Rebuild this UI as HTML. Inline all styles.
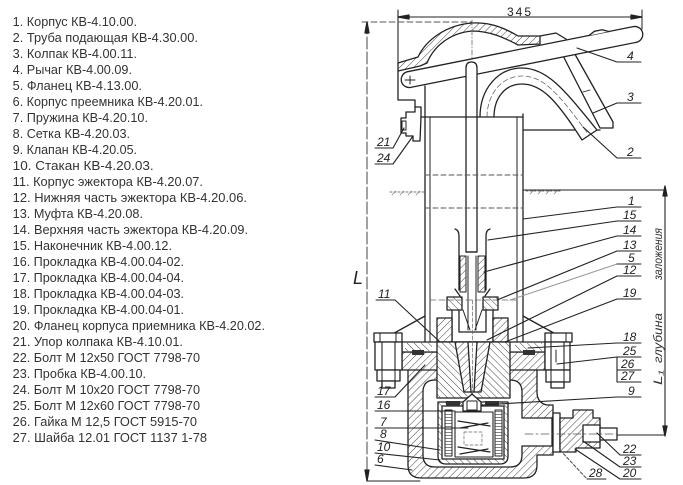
<!DOCTYPE html>
<html><head><meta charset="utf-8">
<style>
html,body{margin:0;padding:0;background:#fff;}
svg{display:block;}
.l{font-family:"Liberation Sans","DejaVu Sans",sans-serif;font-size:12.5px;fill:#333;}
.n{font-family:"Liberation Sans","DejaVu Sans",sans-serif;font-style:italic;font-size:12px;fill:#222;}
</style></head><body>
<svg width="683" height="485" viewBox="0 0 683 485" xmlns="http://www.w3.org/2000/svg">
<defs>
<pattern id="ha" width="5" height="5" patternUnits="userSpaceOnUse" patternTransform="rotate(45)"><rect width="5" height="5" fill="#fff"/><line x1="0" y1="0" x2="0" y2="5" stroke="#444" stroke-width="1"/></pattern>
<pattern id="hb" width="5" height="5" patternUnits="userSpaceOnUse" patternTransform="rotate(-45)"><rect width="5" height="5" fill="#fff"/><line x1="0" y1="0" x2="0" y2="5" stroke="#444" stroke-width="1"/></pattern>
<pattern id="hm" width="4" height="3" patternUnits="userSpaceOnUse"><rect width="4" height="3" fill="#fff"/><line x1="0" y1="0" x2="4" y2="0" stroke="#333" stroke-width="1.2"/></pattern>
</defs>

<!-- Parts list -->
<g class="l">
<text x="12.7" y="26" textLength="124.3" lengthAdjust="spacingAndGlyphs">1. Корпус КВ-4.10.00.</text>
<text x="12.7" y="42" textLength="185.3" lengthAdjust="spacingAndGlyphs">2. Труба подающая КВ-4.30.00.</text>
<text x="12.7" y="58" textLength="124.3" lengthAdjust="spacingAndGlyphs">3. Колпак КВ-4.00.11.</text>
<text x="12.7" y="74" textLength="119.3" lengthAdjust="spacingAndGlyphs">4. Рычаг КВ-4.00.09.</text>
<text x="12.7" y="90" textLength="129.3" lengthAdjust="spacingAndGlyphs">5. Фланец КВ-4.13.00.</text>
<text x="12.7" y="106" textLength="190.3" lengthAdjust="spacingAndGlyphs">6. Корпус преемника КВ-4.20.01.</text>
<text x="12.7" y="122" textLength="135.3" lengthAdjust="spacingAndGlyphs">7. Пружина КВ-4.20.10.</text>
<text x="12.7" y="138" textLength="117.3" lengthAdjust="spacingAndGlyphs">8. Сетка КВ-4.20.03.</text>
<text x="12.7" y="154" textLength="124.3" lengthAdjust="spacingAndGlyphs">9. Клапан КВ-4.20.05.</text>
<text x="12.7" y="170" textLength="141" lengthAdjust="spacingAndGlyphs">10. Стакан КВ-4.20.03.</text>
<text x="12.7" y="186" textLength="190.3" lengthAdjust="spacingAndGlyphs">11. Корпус эжектора КВ-4.20.07.</text>
<text x="12.7" y="202" textLength="234.3" lengthAdjust="spacingAndGlyphs">12. Нижняя часть эжектора КВ-4.20.06.</text>
<text x="12.7" y="218" textLength="130.3" lengthAdjust="spacingAndGlyphs">13. Муфта КВ-4.20.08.</text>
<text x="12.7" y="234" textLength="235.3" lengthAdjust="spacingAndGlyphs">14. Верхняя часть эжектора КВ-4.20.09.</text>
<text x="12.7" y="250" textLength="159.3" lengthAdjust="spacingAndGlyphs">15. Наконечник КВ-4.00.12.</text>
<text x="12.7" y="266" textLength="171.3" lengthAdjust="spacingAndGlyphs">16. Прокладка КВ-4.00.04-02.</text>
<text x="12.7" y="282" textLength="171.3" lengthAdjust="spacingAndGlyphs">17. Прокладка КВ-4.00.04-04.</text>
<text x="12.7" y="298" textLength="171.3" lengthAdjust="spacingAndGlyphs">18. Прокладка КВ-4.00.04-03.</text>
<text x="12.7" y="314" textLength="171.3" lengthAdjust="spacingAndGlyphs">19. Прокладка КВ-4.00.04-01.</text>
<text x="12.7" y="330" textLength="252.3" lengthAdjust="spacingAndGlyphs">20. Фланец корпуса приемника КВ-4.20.02.</text>
<text x="12.7" y="346" textLength="170.3" lengthAdjust="spacingAndGlyphs">21. Упор колпака КВ-4.10.01.</text>
<text x="12.7" y="362" textLength="187.3" lengthAdjust="spacingAndGlyphs">22. Болт М 12х50 ГОСТ 7798-70</text>
<text x="12.7" y="378" textLength="133.3" lengthAdjust="spacingAndGlyphs">23. Пробка КВ-4.00.10.</text>
<text x="12.7" y="394" textLength="187.3" lengthAdjust="spacingAndGlyphs">24. Болт М 10х20 ГОСТ 7798-70</text>
<text x="12.7" y="410" textLength="187.3" lengthAdjust="spacingAndGlyphs">25. Болт М 12х60 ГОСТ 7798-70</text>
<text x="12.7" y="426" textLength="184.3" lengthAdjust="spacingAndGlyphs">26. Гайка М 12,5 ГОСТ 5915-70</text>
<text x="12.7" y="442" textLength="194.3" lengthAdjust="spacingAndGlyphs">27. Шайба 12.01 ГОСТ 1137 1-78</text>
</g>

<!-- Drawing -->
<g fill="none" stroke="#222" stroke-width="1.3" stroke-linecap="round" stroke-linejoin="round">

<!-- top dimension 345 -->
<line x1="398" y1="17" x2="642" y2="17" stroke-width="1"/>
<polygon points="398,17 409,15 409,19" fill="#222"/>
<polygon points="642,17 631,15 631,19" fill="#222"/>
<line x1="398" y1="10" x2="398" y2="66" stroke-width="1.1"/>
<line x1="642" y1="10" x2="642" y2="29" stroke-width="1"/>

<!-- L dimension -->
<line x1="362" y1="22" x2="472" y2="22" stroke="#555" stroke-width="0.9" stroke-dasharray="6 3"/>
<line x1="367" y1="22" x2="367" y2="480" stroke="#444" stroke-width="1" stroke-dasharray="12 3"/>
<polygon points="367,22 365,33 369,33" fill="#222"/>
<polygon points="367,481 365,470 369,470" fill="#222"/>
<line x1="367" y1="481" x2="420" y2="481" stroke-width="0.9"/>

<!-- cap 3 shell -->
<path d="M398 63 L418 57 C426 40 446 25 472 23 C492 22 506 29 518 36 L540 36 L540 44 L518 45 C505 38 490 31 472 31 C450 33 434 46 427 63 L420 66 L398 71 Z" fill="url(#ha)"/>
<path d="M540 36 L556 33 L566 39"/>
<line x1="472" y1="20" x2="472" y2="70" stroke="#666" stroke-width="0.8" stroke-dasharray="5 2 1 2"/>
<!-- cap left wall -->
<path d="M398 71 L398 100 L415 100 L415 107 L421 107 L421 117"/>
<line x1="425" y1="86" x2="425" y2="117"/>
<!-- cap skirt -->
<path d="M556 42 L600 128 L613 128 L613 122 L567 40"/>
<line x1="583" y1="92" x2="590" y2="90" stroke-width="0.9"/>
<line x1="523" y1="130" x2="600" y2="130"/>

<!-- lever 4 -->
<g transform="translate(522,57) rotate(-11.3)">
<rect x="-123" y="-8" width="246" height="16" rx="8" fill="#fff"/>
<path d="M70 -8 L76 -11 L84 -11 L90 -8" fill="#fff"/>
</g>
<path d="M405 80 L415 80 M410 76 L410 84" stroke-width="1"/>

<!-- pipe 2 stem -->
<path d="M466 252 L466 68 Q466 62 471.5 62 Q477 62 477 68 L477 252 Z" fill="#fff"/>
<!-- pipe 2 arch -->
<path d="M480 117 C480 90 497 68 522 68 C548 68 566 92 597 130 L582 140 C556 99 541 84 522 84 C505 84 494 98 494 117" fill="#fff"/>
<path d="M487 117 C487 94 502 76 522 76 C545 76 560 96 589 135" stroke="#666" stroke-width="0.8" stroke-dasharray="5 3"/>

<!-- bracket 21/24 -->
<path d="M415 107 L415 112 L406 112 L406 118 L401 118 L401 133 L406 133 L406 136 L413 136 L413 141 L420 141 L421 117"/>
<rect x="402" y="121" width="4" height="9" stroke-width="1"/>

<!-- body 1 -->
<line x1="421" y1="117" x2="523" y2="117"/>
<line x1="425" y1="117" x2="425" y2="342"/>
<line x1="430" y1="117" x2="430" y2="342" stroke-width="1"/>
<line x1="517" y1="117" x2="517" y2="342" stroke-width="1"/>
<line x1="523" y1="114" x2="523" y2="342"/>
<line x1="425" y1="175" x2="523" y2="175" stroke="#555" stroke-width="0.9" stroke-dasharray="5 3"/>
<line x1="425" y1="208" x2="523" y2="208" stroke="#555" stroke-width="0.9" stroke-dasharray="5 3"/>

<!-- ground -->
<line x1="390" y1="192" x2="424" y2="192" stroke="#777" stroke-width="1" stroke-dasharray="2 2"/>
<line x1="526" y1="191" x2="562" y2="191" stroke="#777" stroke-width="1" stroke-dasharray="2 2"/>
<path d="M392 195 l4 -4 M400 195 l4 -4 M408 195 l4 -4 M416 195 l4 -4 M530 194 l4 -4 M538 194 l4 -4 M546 194 l4 -4 M554 194 l4 -4" stroke="#888" stroke-width="0.8"/>
<line x1="523" y1="190" x2="665" y2="190" stroke-width="1.1"/>
<polygon points="665,186 663,196 667,196" fill="#222"/>
<!-- L1 -->
<line x1="665" y1="190" x2="665" y2="435" stroke-width="1.1"/>
<polygon points="665,436 663,426 667,426" fill="#222"/>
<line x1="617" y1="435" x2="665" y2="435" stroke-width="1.1"/>

<!-- ejector: nozzle 15 -->
<path d="M455 229 Q459 230 459 236 L459 290"/>
<path d="M490 229 Q486 230 486 236 L486 290"/>
<line x1="466" y1="252" x2="477" y2="252"/>
<rect x="460" y="256" width="6" height="36" fill="url(#ha)" stroke-width="1"/>
<rect x="478" y="256" width="7" height="36" fill="url(#ha)" stroke-width="1"/>
<line x1="468" y1="256" x2="468" y2="330" stroke-width="1"/>
<line x1="476" y1="256" x2="476" y2="330" stroke-width="1"/>
<path d="M455 289 L460 296 M490 289 L485 296"/>
<!-- muff 13 -->
<rect x="447" y="297" width="15" height="13" fill="url(#hb)"/>
<rect x="483" y="297" width="15" height="13" fill="url(#hb)"/>
<line x1="430" y1="300" x2="517" y2="300" stroke="#666" stroke-width="0.8" stroke-dasharray="6 3"/>
<!-- lower ejector -->
<line x1="452" y1="310" x2="452" y2="342"/>
<line x1="493" y1="310" x2="493" y2="342"/>
<path d="M459 310 L459 332 L486 332 L486 310"/>
<path d="M463 310 L470 330 M482 310 L475 330" stroke-width="1"/>
<rect x="437" y="318" width="15" height="24" fill="url(#ha)"/>
<rect x="493" y="318" width="15" height="24" fill="url(#ha)"/>

<!-- cone flange lines -->
<line x1="378" y1="342" x2="425" y2="316"/>
<line x1="523" y1="316" x2="570" y2="342"/>

<!-- body 6 -->
<path fill-rule="evenodd" fill="url(#ha)" d="M408 368 L408 465 Q408 478 421 478 L524 478 Q537 478 537 465 L537 455 L553 455 L553 405 L547 405 Q537 403 537 392 L537 368 Z M423 392 Q423 380 435 380 L510 380 Q522 380 522 392 L522 418 L552 418 L552 446 L522 446 L522 455 Q522 467 510 467 L435 467 Q423 467 423 455 Z"/>
<!-- body 6 flange -->
<rect x="402" y="352" width="143" height="18" fill="url(#ha)"/>
<!-- flange 20 plate -->
<rect x="402" y="342" width="143" height="10" fill="#fff"/>
<rect x="405" y="343" width="27" height="8" fill="url(#hb)" stroke="none"/>
<rect x="515" y="343" width="27" height="8" fill="url(#hb)" stroke="none"/>
<rect x="412" y="350" width="12" height="5" fill="#333" stroke="none"/>
<rect x="523" y="350" width="12" height="5" fill="#333" stroke="none"/>

<!-- central block 11 -->
<rect x="437" y="342" width="73" height="56" fill="url(#hb)"/>
<polygon points="455,342 490,342 481,392 464,392" fill="url(#ha)"/>
<polygon points="468,342 477,342 474,392 471,392" fill="#fff"/>
<line x1="472.5" y1="300" x2="472.5" y2="400" stroke="#666" stroke-width="0.7" stroke-dasharray="4 2"/>

<!-- cup 10 -->
<path fill-rule="evenodd" fill="url(#hb)" d="M438 402 L438 456 Q438 464 446 464 L500 464 Q508 464 508 456 L508 402 Z M442 406 L504 406 L504 459 L442 459 Z"/>
<rect x="446" y="401" width="14" height="5" fill="#333" stroke="none"/>
<rect x="485" y="401" width="14" height="5" fill="#333" stroke="none"/>
<!-- mesh 8 -->
<rect x="445" y="410" width="7" height="46" fill="url(#hm)" stroke-width="1"/>
<rect x="495" y="410" width="7" height="46" fill="url(#hm)" stroke-width="1"/>
<!-- spring box -->
<rect x="455" y="412" width="38" height="45" fill="#fff" stroke-width="1.1"/>
<path d="M458 421 L490 426 M460 428 L488 423 M458 447 L490 452 M460 454 L488 449" stroke-width="1.2"/>
<rect x="464" y="432" width="18" height="13" stroke="#666" stroke-width="0.7" stroke-dasharray="3 2"/>
<!-- valve 9 -->
<polygon points="463,402 472,394 481,402 481,411 463,411" fill="#fff"/>
<rect x="467" y="401" width="10" height="9" stroke-width="1"/>

<!-- bolts left -->
<rect x="374" y="333" width="28" height="9" fill="#fff"/>
<path d="M380 333 L380 342 M396 333 L396 342" stroke-width="1"/>
<rect x="375" y="342" width="27" height="28" fill="#fff"/>
<path d="M382 342 L382 388 M395 342 L395 388" stroke-width="1.1"/>
<rect x="377" y="370" width="23" height="11" fill="#fff"/>
<path d="M382 370 L382 381 M395 370 L395 381" stroke-width="1"/>
<rect x="382" y="381" width="13" height="7" fill="#fff"/>
<!-- bolts right -->
<rect x="545" y="333" width="27" height="9" fill="#fff"/>
<path d="M551 333 L551 342 M566 333 L566 342" stroke-width="1"/>
<rect x="545" y="342" width="25" height="28" fill="#fff"/>
<path d="M551 342 L551 388 M564 342 L564 388" stroke-width="1.1"/>
<path d="M556 350 L556 362" stroke-width="1"/>
<rect x="546" y="370" width="24" height="12" fill="#fff"/>
<path d="M551 370 L551 382 M564 370 L564 382" stroke-width="1"/>
<rect x="551" y="382" width="13" height="6" fill="#fff"/>

<!-- outlet -->
<rect x="553" y="413" width="7" height="39" fill="#fff"/>
<polygon points="560,418 573,418 573,410 593,410 593,418 600,418 600,448 576,448 576,452 560,452" fill="url(#ha)"/>
<rect x="583" y="425" width="17" height="17" fill="#fff"/>
<rect x="600" y="428" width="17" height="12" fill="#fff"/>
<line x1="525" y1="434" x2="617" y2="434" stroke="#555" stroke-width="0.8" stroke-dasharray="8 3 2 3"/>

<!-- right labels leaders & underlines -->
<g stroke-width="1.1">
<path d="M577 48 L617 62 L641 62"/>
<path d="M593 113 L617 103 L641 103"/>
<path d="M583 127 L617 158 L641 158"/>
<path d="M523 219 L617 207 L641 207"/>
<path d="M488 240 L617 221 L641 221"/>
<path d="M484 272 L617 236 L641 236"/>
<path d="M497 300 L617 251 L641 251"/>
<path d="M510 300 L617 264" stroke="#999"/>
<path d="M617 264 L641 264"/>
<path d="M487 340 L617 276 L641 276"/>
<path d="M505 342 L617 299 L641 299"/>
<path d="M528 348 L617 343 L641 343"/>
<path d="M557 364 L617 357 L641 357"/>
<path d="M617 357 L617 382 M617 370 L641 370 M617 382 L641 382"/>
<path d="M482 405 L617 397 L641 397"/>
<path d="M597 433 L620 455 L641 455"/>
<path d="M583 441 L620 467 L641 467"/>
<path d="M575 449 L620 479 L641 479"/>
<path d="M560 450 L587 479" stroke-dasharray="3 2" stroke="#555"/>
<path d="M587 479 L606 479"/>
<!-- left -->
<path d="M375 148 L393 148 L404 128"/>
<path d="M375 164 L393 164 L413 136"/>
<path d="M376 300 L395 300 L440 342"/>
<path d="M375 397 L395 397 L425 365"/>
<path d="M375 411 L455 411"/>
<path d="M375 428 L468 428"/>
<path d="M375 440 L440 450"/>
<path d="M375 453 L440 460"/>
<path d="M375 465 L412 470"/>
</g>
</g>

<!-- drawing texts -->
<text x="520" y="16" text-anchor="middle" style="font-family:'Liberation Sans',sans-serif;font-size:12px;letter-spacing:2px;fill:#222">345</text>
<text x="353" y="284" style="font-family:'Liberation Sans',sans-serif;font-style:italic;font-size:18px;fill:#222">L</text>
<g style="font-family:'Liberation Sans',sans-serif;font-style:italic;font-size:11.5px;fill:#333">
<text transform="translate(662,385) rotate(-90)" textLength="15" lengthAdjust="spacingAndGlyphs">L₁</text>
<text transform="translate(662,363) rotate(-90)" textLength="50" lengthAdjust="spacingAndGlyphs">глубина</text>
<text transform="translate(662,280) rotate(-90)" textLength="52" lengthAdjust="spacingAndGlyphs">заложения</text>
</g>
<g class="n">
<text x="627" y="60">4</text>
<text x="627" y="101">3</text>
<text x="627" y="156">2</text>
<text x="628" y="205">1</text>
<text x="623" y="219">15</text>
<text x="623" y="234">14</text>
<text x="623" y="249">13</text>
<text x="628" y="262">5</text>
<text x="623" y="274">12</text>
<text x="623" y="297">19</text>
<text x="623" y="341">18</text>
<text x="623" y="355">25</text>
<text x="621" y="368">26</text>
<text x="621" y="380">27</text>
<text x="628" y="395">9</text>
<text x="623" y="453">22</text>
<text x="623" y="465">23</text>
<text x="623" y="477">20</text>
<text x="589" y="477">28</text>
<text x="377" y="146">21</text>
<text x="377" y="162">24</text>
<text x="378" y="298">11</text>
<text x="377" y="395">17</text>
<text x="377" y="409">16</text>
<text x="380" y="426">7</text>
<text x="380" y="438">8</text>
<text x="377" y="451">10</text>
<text x="377" y="463">6</text>
</g>
</svg>
</body></html>
